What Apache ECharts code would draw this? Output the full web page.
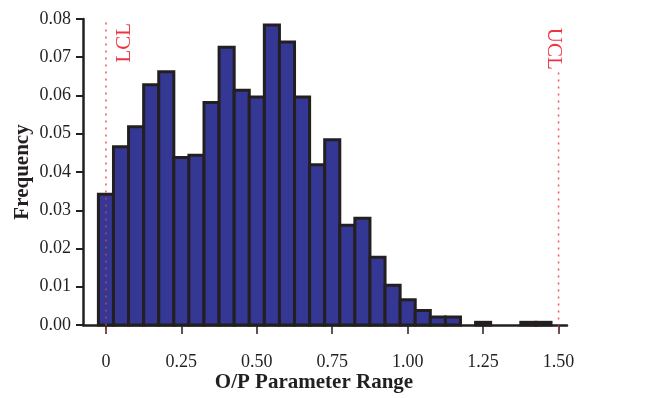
<!DOCTYPE html>
<html>
<head>
<meta charset="utf-8">
<script src="https://cdn.jsdelivr.net/npm/echarts@6/dist/echarts.min.js"></script>
<style>
html,body{margin:0;padding:0;background:#fff;}
#chart{width:650px;height:398px;}
</style>
</head>
<body>
<div id="chart"></div>
<script>
// Histogram bins (centers) and frequencies
const binCenters = [0, 0.05, 0.10, 0.15, 0.20, 0.25, 0.30, 0.35, 0.40, 0.45,
                    0.50, 0.55, 0.60, 0.65, 0.70, 0.75, 0.80, 0.85, 0.90, 0.95,
                    1.00, 1.05, 1.10, 1.15, 1.20, 1.25, 1.30, 1.35, 1.40, 1.45];
const frequencies = [0.0342, 0.0466, 0.0518, 0.0628, 0.0662, 0.0438, 0.0444, 0.0582, 0.0726, 0.0614,
                     0.0596, 0.0784, 0.0740, 0.0596, 0.0419, 0.0484, 0.0261, 0.0279, 0.0177, 0.0104,
                     0.0066, 0.0038, 0.0021, 0.0021, 0, 0.0007, 0, 0, 0.0007, 0.0007];
const binWidth = 0.05;

// Axis ticks
const xTickValues = [0, 0.25, 0.5, 0.75, 1.0, 1.25, 1.5];
const xTickLabels = ['0', '0.25', '0.50', '0.75', '1.00', '1.25', '1.50'];
const yTickLabels = ['0.00', '0.01', '0.02', '0.03', '0.04', '0.05', '0.06', '0.07', '0.08'];

// Control limits
const limitNames = ['LCL', 'UCL'];
const limitValues = [0, 1.5];
const limitLineTop = [0.0791, 0.066];
const limitLabelPos = [[0.063, 0.0738], [1.483, 0.0722]];

const FONT = '"Liberation Serif", "DejaVu Serif", serif';
const INK = '#231f20';
const RED = '#ee3440';

const chart = echarts.init(document.getElementById('chart'), null, {renderer: 'canvas'});

const histData = binCenters.map((c, i) => [c, frequencies[i]]);
const limitData = limitValues.map((v, i) => [v, limitLineTop[i], limitLabelPos[i][0], limitLabelPos[i][1], i]);

const option = {
  animation: false,
  backgroundColor: '#fff',
  grid: {left: 83, right: 83, top: 19, bottom: 73, containLabel: false, outerBoundsMode: 'none'},
  xAxis: {
    type: 'value',
    min: -0.076,
    max: 1.528,
    name: 'O/P Parameter Range',
    nameLocation: 'middle',
    nameGap: 47,
    nameMoveOverlap: false,
    nameTextStyle: {fontFamily: FONT, fontWeight: 'bold', fontSize: 21, color: INK, padding: [0, 22, 0, 0]},
    splitLine: {show: false},
    axisLine: {show: true, onZero: false, lineStyle: {color: INK, width: 2.5}},
    axisTick: {show: true, customValues: xTickValues, length: 9, inside: false, lineStyle: {color: INK, width: 1.5}},
    axisLabel: {
      customValues: xTickValues,
      margin: 28,
      fontFamily: FONT, fontSize: 18, color: INK,
      formatter: function (v) {
        const idx = xTickValues.findIndex(t => Math.abs(t - v) < 1e-9);
        return idx >= 0 ? xTickLabels[idx] : '';
      }
    }
  },
  yAxis: {
    type: 'value',
    min: 0,
    max: 0.08,
    interval: 0.01,
    name: 'Frequency',
    nameLocation: 'middle',
    nameGap: 50,
    nameMoveOverlap: false,
    nameTextStyle: {fontFamily: FONT, fontWeight: 'bold', fontSize: 21, color: INK},
    splitLine: {show: false},
    axisLine: {show: true, onZero: false, lineStyle: {color: INK, width: 2.5}},
    axisTick: {show: true, length: 7, lineStyle: {color: INK, width: 2}},
    axisLabel: {
      margin: 12,
      fontFamily: FONT, fontSize: 18, color: INK,
      formatter: function (v) {
        const idx = Math.round(v / 0.01);
        return yTickLabels[idx] !== undefined ? yTickLabels[idx] : '';
      }
    }
  },
  series: [
    {
      type: 'custom',
      name: 'hist',
      clip: false,
      data: histData,
      encode: {x: 0, y: 1},
      renderItem: function (params, api) {
        const c = api.value(0);
        const f = api.value(1);
        if (!(f > 0)) return null;
        const p0 = api.coord([c - binWidth / 2, f]);
        const p1 = api.coord([c + binWidth / 2, 0]);
        return {
          type: 'rect',
          shape: {x: p0[0], y: p0[1], width: p1[0] - p0[0], height: p1[1] - p0[1]},
          style: {fill: '#343894', stroke: INK, lineWidth: 3}
        };
      }
    },
    {
      type: 'custom',
      name: 'limits',
      clip: false,
      z: 5,
      data: limitData,
      encode: {x: 0, y: 1},
      renderItem: function (params, api) {
        const v = api.value(0);
        const top = api.value(1);
        const lx = api.value(2);
        const ly = api.value(3);
        const i = api.value(4);
        const pTop = api.coord([v, top]);
        const pBot = api.coord([v, -0.002]);
        const pLab = api.coord([lx, ly]);
        return {
          type: 'group',
          children: [
            {
              type: 'line',
              shape: {x1: pTop[0], y1: pTop[1], x2: pBot[0], y2: pBot[1]},
              style: {stroke: RED, lineWidth: 1.5, lineDash: [2, 5], opacity: 0.85}
            },
            {
              type: 'text',
              x: pLab[0], y: pLab[1],
              rotation: i === 0 ? Math.PI / 2 : -Math.PI / 2,
              style: {
                text: limitNames[i],
                fill: RED,
                font: '21px ' + FONT,
                align: 'center',
                verticalAlign: 'middle'
              }
            }
          ]
        };
      }
    }
  ]
};

chart.setOption(option);
</script>
</body>
</html>
